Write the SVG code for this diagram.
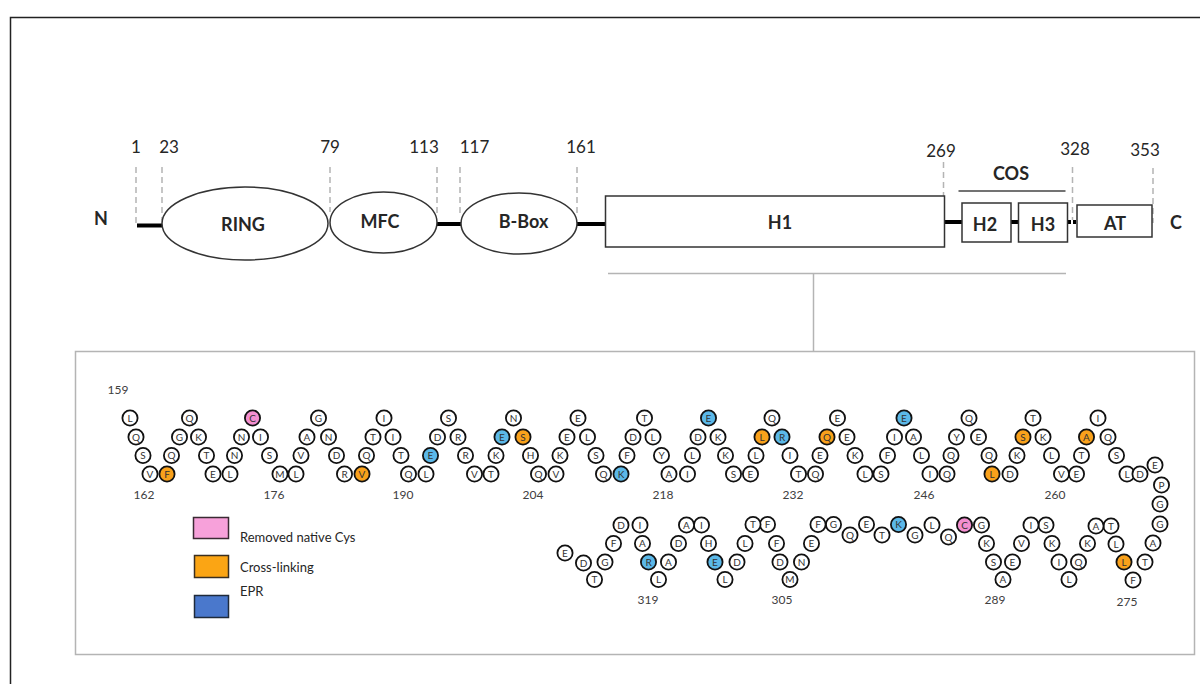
<svg xmlns="http://www.w3.org/2000/svg" width="1200" height="684" viewBox="0 0 1200 684">
<style>
text{font-family:"Lato","Liberation Sans",sans-serif;fill:#262626}
.num{font-size:17px;text-anchor:middle}
.dom{font-size:18px;font-weight:bold;text-anchor:middle}
.shape{fill:#fff;stroke:#333;stroke-width:1.5}
.res circle{fill:#fff;stroke:#111;stroke-width:1.8}
.res text{font-size:10px;text-anchor:middle;fill:#333}
.res.o circle{fill:#f9a11b}
.res.p circle{fill:#f48fd0}
.res.b circle{fill:#5bb8e8}
.pos{font-size:12px;text-anchor:middle;fill:#404040}
.leg{font-size:13px}
.dash{stroke:#b4b4b4;stroke-width:1.5;stroke-dasharray:6 4;fill:none}
.bb{stroke:#000;stroke-width:4;fill:none}
.gl{stroke:#b4b4b4;stroke-width:1.5;fill:none}
</style>
<rect x="0" y="0" width="1200" height="684" fill="#fff"/>
<rect x="10.5" y="17.5" width="1200" height="700" fill="none" stroke="#222" stroke-width="1.5"/>
<rect x="75.5" y="351.5" width="1119" height="303" fill="none" stroke="#b4b4b4" stroke-width="1.5"/>

<g id="connectors">
<line class="bb" x1="137" y1="225.5" x2="163" y2="225.5"/>
<line class="bb" x1="437" y1="224" x2="461" y2="224"/>
<line class="bb" x1="577" y1="224" x2="606" y2="224"/>
<line class="bb" x1="944" y1="222" x2="962" y2="222"/>
<line class="bb" x1="1011" y1="222" x2="1018" y2="222"/>
<line x1="1068" y1="222" x2="1077" y2="222" stroke="#000" stroke-width="4" stroke-dasharray="3 2"/>
<line class="dash" x1="136" y1="167" x2="136" y2="223"/>
<line class="dash" x1="162" y1="167" x2="162" y2="220"/>
<line class="dash" x1="330" y1="167" x2="330" y2="212"/>
<line class="dash" x1="437" y1="167" x2="437" y2="213"/>
<line class="dash" x1="460" y1="167" x2="460" y2="213"/>
<line class="dash" x1="577" y1="167" x2="577" y2="215"/>
<line class="dash" x1="943.5" y1="162" x2="943.5" y2="220"/>
<line class="dash" x1="1072.5" y1="167" x2="1072.5" y2="220"/>
<line class="dash" x1="1153" y1="168" x2="1153" y2="223"/>
<line x1="958.5" y1="191" x2="1065.5" y2="191" stroke="#444" stroke-width="1.5"/>
<line class="gl" x1="608" y1="273.5" x2="1066" y2="273.5"/>
<line class="gl" x1="813.5" y1="273.5" x2="813.5" y2="351.5"/>
</g>

<g id="labels-domain-positions">
<text class="num" x="136" y="153">1</text>
<text class="num" x="169" y="153">23</text>
<text class="num" x="330" y="153">79</text>
<text class="num" x="424" y="153">113</text>
<text class="num" x="474.5" y="153">117</text>
<text class="num" x="581" y="153">161</text>
<text class="num" x="941" y="157">269</text>
<text class="num" x="1075" y="155">328</text>
<text class="num" x="1145" y="156">353</text>
<text class="dom" x="101" y="224.5">N</text>
<text class="dom" x="1176" y="228.5">C</text>
<text class="dom" x="1011" y="179.5">COS</text>
</g>

<g id="RING"><ellipse class="shape" cx="245" cy="223.5" rx="83" ry="36.5"/><text class="dom" x="243" y="231">RING</text></g>
<g id="MFC"><ellipse class="shape" cx="383.5" cy="222.5" rx="53.5" ry="30.5"/><text class="dom" x="380" y="228">MFC</text></g>
<g id="BBox"><ellipse class="shape" cx="519" cy="223.5" rx="58" ry="30.5"/><text class="dom" x="523.5" y="228">B-Box</text></g>
<g id="H1"><rect class="shape" x="605.5" y="196" width="339" height="51"/><text class="dom" x="780" y="229">H1</text></g>
<g id="H2"><rect class="shape" x="962" y="203" width="49" height="39"/><text class="dom" x="985" y="230.5">H2</text></g>
<g id="H3"><rect class="shape" x="1018.5" y="203" width="49" height="39"/><text class="dom" x="1043" y="231">H3</text></g>
<g id="AT"><rect class="shape" x="1077" y="205" width="75" height="32"/><text class="dom" x="1115" y="229.5">AT</text></g>

<g id="residue-labels">
<text class="pos" x="118" y="394">159</text>
<text class="pos" x="144" y="499">162</text>
<text class="pos" x="274" y="499">176</text>
<text class="pos" x="403" y="499">190</text>
<text class="pos" x="533" y="499">204</text>
<text class="pos" x="663" y="499">218</text>
<text class="pos" x="793" y="499">232</text>
<text class="pos" x="924" y="499">246</text>
<text class="pos" x="1055" y="499">260</text>
<text class="pos" x="648" y="604">319</text>
<text class="pos" x="782" y="604">305</text>
<text class="pos" x="995" y="604">289</text>
<text class="pos" x="1127" y="606">275</text>
</g>

<g id="residues">
<g id="r159" class="res" transform="translate(130,418)"><circle r="7.6"/><text y="3.5">L</text></g>
<g id="r160" class="res" transform="translate(136,437)"><circle r="7.6"/><text y="3.5">Q</text></g>
<g id="r161" class="res" transform="translate(143,455.5)"><circle r="7.6"/><text y="3.5">S</text></g>
<g id="r162" class="res" transform="translate(150,474)"><circle r="7.6"/><text y="3.5">V</text></g>
<g id="r163" class="res o" transform="translate(167,474)"><circle r="7.6"/><text y="3.5">F</text></g>
<g id="r164" class="res" transform="translate(171.5,455.5)"><circle r="7.6"/><text y="3.5">Q</text></g>
<g id="r165" class="res" transform="translate(179.5,437)"><circle r="7.6"/><text y="3.5">G</text></g>
<g id="r166" class="res" transform="translate(189.5,418)"><circle r="7.6"/><text y="3.5">Q</text></g>
<g id="r167" class="res" transform="translate(198.5,437)"><circle r="7.6"/><text y="3.5">K</text></g>
<g id="r168" class="res" transform="translate(206.5,455.5)"><circle r="7.6"/><text y="3.5">T</text></g>
<g id="r169" class="res" transform="translate(213,474)"><circle r="7.6"/><text y="3.5">E</text></g>
<g id="r170" class="res" transform="translate(230,474)"><circle r="7.6"/><text y="3.5">L</text></g>
<g id="r171" class="res" transform="translate(234.5,455.5)"><circle r="7.6"/><text y="3.5">N</text></g>
<g id="r172" class="res" transform="translate(241.5,437)"><circle r="7.6"/><text y="3.5">N</text></g>
<g id="r173" class="res p" transform="translate(252.5,418)"><circle r="7.6"/><text y="3.5">C</text></g>
<g id="r174" class="res" transform="translate(260.5,437)"><circle r="7.6"/><text y="3.5">I</text></g>
<g id="r175" class="res" transform="translate(269.5,455.5)"><circle r="7.6"/><text y="3.5">S</text></g>
<g id="r176" class="res" transform="translate(280,474)"><circle r="7.6"/><text y="3.5">M</text></g>
<g id="r177" class="res" transform="translate(296,474)"><circle r="7.6"/><text y="3.5">L</text></g>
<g id="r178" class="res" transform="translate(301,455.5)"><circle r="7.6"/><text y="3.5">V</text></g>
<g id="r179" class="res" transform="translate(307,437)"><circle r="7.6"/><text y="3.5">A</text></g>
<g id="r180" class="res" transform="translate(318.5,418)"><circle r="7.6"/><text y="3.5">G</text></g>
<g id="r181" class="res" transform="translate(328.5,437)"><circle r="7.6"/><text y="3.5">N</text></g>
<g id="r182" class="res" transform="translate(336.5,455.5)"><circle r="7.6"/><text y="3.5">D</text></g>
<g id="r183" class="res" transform="translate(344.5,474)"><circle r="7.6"/><text y="3.5">R</text></g>
<g id="r184" class="res o" transform="translate(362,474)"><circle r="7.6"/><text y="3.5">V</text></g>
<g id="r185" class="res" transform="translate(366.5,455.5)"><circle r="7.6"/><text y="3.5">Q</text></g>
<g id="r186" class="res" transform="translate(373,437)"><circle r="7.6"/><text y="3.5">T</text></g>
<g id="r187" class="res" transform="translate(384,418)"><circle r="7.6"/><text y="3.5">I</text></g>
<g id="r188" class="res" transform="translate(393,437)"><circle r="7.6"/><text y="3.5">I</text></g>
<g id="r189" class="res" transform="translate(401,455.5)"><circle r="7.6"/><text y="3.5">T</text></g>
<g id="r190" class="res" transform="translate(408.5,474)"><circle r="7.6"/><text y="3.5">Q</text></g>
<g id="r191" class="res" transform="translate(426,474)"><circle r="7.6"/><text y="3.5">L</text></g>
<g id="r192" class="res b" transform="translate(430.5,455.5)"><circle r="7.6"/><text y="3.5">E</text></g>
<g id="r193" class="res" transform="translate(437.5,437)"><circle r="7.6"/><text y="3.5">D</text></g>
<g id="r194" class="res" transform="translate(448.5,418)"><circle r="7.6"/><text y="3.5">S</text></g>
<g id="r195" class="res" transform="translate(458,437)"><circle r="7.6"/><text y="3.5">R</text></g>
<g id="r196" class="res" transform="translate(465.5,455.5)"><circle r="7.6"/><text y="3.5">R</text></g>
<g id="r197" class="res" transform="translate(474.5,474)"><circle r="7.6"/><text y="3.5">V</text></g>
<g id="r198" class="res" transform="translate(491,474)"><circle r="7.6"/><text y="3.5">T</text></g>
<g id="r199" class="res" transform="translate(496,455.5)"><circle r="7.6"/><text y="3.5">K</text></g>
<g id="r200" class="res b" transform="translate(502,437)"><circle r="7.6"/><text y="3.5">E</text></g>
<g id="r201" class="res" transform="translate(513.5,418)"><circle r="7.6"/><text y="3.5">N</text></g>
<g id="r202" class="res o" transform="translate(523,437)"><circle r="7.6"/><text y="3.5">S</text></g>
<g id="r203" class="res" transform="translate(530.5,455.5)"><circle r="7.6"/><text y="3.5">H</text></g>
<g id="r204" class="res" transform="translate(538.5,474)"><circle r="7.6"/><text y="3.5">Q</text></g>
<g id="r205" class="res" transform="translate(556,474)"><circle r="7.6"/><text y="3.5">V</text></g>
<g id="r206" class="res" transform="translate(560,455.5)"><circle r="7.6"/><text y="3.5">K</text></g>
<g id="r207" class="res" transform="translate(567,437)"><circle r="7.6"/><text y="3.5">E</text></g>
<g id="r208" class="res" transform="translate(578,418)"><circle r="7.6"/><text y="3.5">E</text></g>
<g id="r209" class="res" transform="translate(587.5,437)"><circle r="7.6"/><text y="3.5">L</text></g>
<g id="r210" class="res" transform="translate(596,455.5)"><circle r="7.6"/><text y="3.5">S</text></g>
<g id="r211" class="res" transform="translate(603.5,474)"><circle r="7.6"/><text y="3.5">Q</text></g>
<g id="r212" class="res b" transform="translate(621,474)"><circle r="7.6"/><text y="3.5">K</text></g>
<g id="r213" class="res" transform="translate(627,455.5)"><circle r="7.6"/><text y="3.5">F</text></g>
<g id="r214" class="res" transform="translate(633,437)"><circle r="7.6"/><text y="3.5">D</text></g>
<g id="r215" class="res" transform="translate(644.5,418)"><circle r="7.6"/><text y="3.5">T</text></g>
<g id="r216" class="res" transform="translate(653,437)"><circle r="7.6"/><text y="3.5">L</text></g>
<g id="r217" class="res" transform="translate(661.5,455.5)"><circle r="7.6"/><text y="3.5">Y</text></g>
<g id="r218" class="res" transform="translate(669,474)"><circle r="7.6"/><text y="3.5">A</text></g>
<g id="r219" class="res" transform="translate(687.5,474)"><circle r="7.6"/><text y="3.5">I</text></g>
<g id="r220" class="res" transform="translate(692.5,455.5)"><circle r="7.6"/><text y="3.5">L</text></g>
<g id="r221" class="res" transform="translate(698,437)"><circle r="7.6"/><text y="3.5">D</text></g>
<g id="r222" class="res b" transform="translate(708.5,418)"><circle r="7.6"/><text y="3.5">E</text></g>
<g id="r223" class="res" transform="translate(718,437)"><circle r="7.6"/><text y="3.5">K</text></g>
<g id="r224" class="res" transform="translate(725.5,455.5)"><circle r="7.6"/><text y="3.5">K</text></g>
<g id="r225" class="res" transform="translate(733.5,474)"><circle r="7.6"/><text y="3.5">S</text></g>
<g id="r226" class="res" transform="translate(750.5,474)"><circle r="7.6"/><text y="3.5">E</text></g>
<g id="r227" class="res" transform="translate(756,455.5)"><circle r="7.6"/><text y="3.5">L</text></g>
<g id="r228" class="res o" transform="translate(762,437)"><circle r="7.6"/><text y="3.5">L</text></g>
<g id="r229" class="res" transform="translate(772,418)"><circle r="7.6"/><text y="3.5">Q</text></g>
<g id="r230" class="res b" transform="translate(782,437)"><circle r="7.6"/><text y="3.5">R</text></g>
<g id="r231" class="res" transform="translate(790,455.5)"><circle r="7.6"/><text y="3.5">I</text></g>
<g id="r232" class="res" transform="translate(798.5,474)"><circle r="7.6"/><text y="3.5">T</text></g>
<g id="r233" class="res" transform="translate(815.5,474)"><circle r="7.6"/><text y="3.5">Q</text></g>
<g id="r234" class="res" transform="translate(820,455.5)"><circle r="7.6"/><text y="3.5">E</text></g>
<g id="r235" class="res o" transform="translate(827,437)"><circle r="7.6"/><text y="3.5">Q</text></g>
<g id="r236" class="res" transform="translate(837.5,418)"><circle r="7.6"/><text y="3.5">E</text></g>
<g id="r237" class="res" transform="translate(847,437)"><circle r="7.6"/><text y="3.5">E</text></g>
<g id="r238" class="res" transform="translate(855,455.5)"><circle r="7.6"/><text y="3.5">K</text></g>
<g id="r239" class="res" transform="translate(865,474)"><circle r="7.6"/><text y="3.5">L</text></g>
<g id="r240" class="res" transform="translate(881,474)"><circle r="7.6"/><text y="3.5">S</text></g>
<g id="r241" class="res" transform="translate(887.5,455.5)"><circle r="7.6"/><text y="3.5">F</text></g>
<g id="r242" class="res" transform="translate(894.5,437)"><circle r="7.6"/><text y="3.5">I</text></g>
<g id="r243" class="res b" transform="translate(904,418)"><circle r="7.6"/><text y="3.5">E</text></g>
<g id="r244" class="res" transform="translate(913.5,437)"><circle r="7.6"/><text y="3.5">A</text></g>
<g id="r245" class="res" transform="translate(921.5,455.5)"><circle r="7.6"/><text y="3.5">L</text></g>
<g id="r246" class="res" transform="translate(930,474)"><circle r="7.6"/><text y="3.5">I</text></g>
<g id="r247" class="res" transform="translate(947,474)"><circle r="7.6"/><text y="3.5">Q</text></g>
<g id="r248" class="res" transform="translate(951,455.5)"><circle r="7.6"/><text y="3.5">Q</text></g>
<g id="r249" class="res" transform="translate(956.5,437)"><circle r="7.6"/><text y="3.5">Y</text></g>
<g id="r250" class="res" transform="translate(969,418)"><circle r="7.6"/><text y="3.5">Q</text></g>
<g id="r251" class="res" transform="translate(978.5,437)"><circle r="7.6"/><text y="3.5">E</text></g>
<g id="r252" class="res" transform="translate(989,455.5)"><circle r="7.6"/><text y="3.5">Q</text></g>
<g id="r253" class="res o" transform="translate(992,474)"><circle r="7.6"/><text y="3.5">L</text></g>
<g id="r254" class="res" transform="translate(1010,474)"><circle r="7.6"/><text y="3.5">D</text></g>
<g id="r255" class="res" transform="translate(1017,455.5)"><circle r="7.6"/><text y="3.5">K</text></g>
<g id="r256" class="res o" transform="translate(1023,437)"><circle r="7.6"/><text y="3.5">S</text></g>
<g id="r257" class="res" transform="translate(1033,418)"><circle r="7.6"/><text y="3.5">T</text></g>
<g id="r258" class="res" transform="translate(1043,437)"><circle r="7.6"/><text y="3.5">K</text></g>
<g id="r259" class="res" transform="translate(1051.5,455.5)"><circle r="7.6"/><text y="3.5">L</text></g>
<g id="r260" class="res" transform="translate(1061.5,474)"><circle r="7.6"/><text y="3.5">V</text></g>
<g id="r261" class="res" transform="translate(1076.5,474)"><circle r="7.6"/><text y="3.5">E</text></g>
<g id="r262" class="res" transform="translate(1081.5,455.5)"><circle r="7.6"/><text y="3.5">T</text></g>
<g id="r263" class="res o" transform="translate(1086.5,437)"><circle r="7.6"/><text y="3.5">A</text></g>
<g id="r264" class="res" transform="translate(1098,418)"><circle r="7.6"/><text y="3.5">I</text></g>
<g id="r265" class="res" transform="translate(1108,437)"><circle r="7.6"/><text y="3.5">Q</text></g>
<g id="r266" class="res" transform="translate(1116.5,455.5)"><circle r="7.6"/><text y="3.5">S</text></g>
<g id="r267" class="res" transform="translate(1127,474)"><circle r="7.6"/><text y="3.5">L</text></g>
<g id="r268" class="res" transform="translate(1140,474)"><circle r="7.6"/><text y="3.5">D</text></g>
<g id="r269" class="res" transform="translate(1155,465)"><circle r="7.6"/><text y="3.5">E</text></g>
<g id="r270" class="res" transform="translate(1161.5,485)"><circle r="7.6"/><text y="3.5">P</text></g>
<g id="r271" class="res" transform="translate(1160,504)"><circle r="7.6"/><text y="3.5">G</text></g>
<g id="r272" class="res" transform="translate(1160,524)"><circle r="7.6"/><text y="3.5">G</text></g>
<g id="r273" class="res" transform="translate(1153,543)"><circle r="7.6"/><text y="3.5">A</text></g>
<g id="r274" class="res" transform="translate(1145,562)"><circle r="7.6"/><text y="3.5">T</text></g>
<g id="r275" class="res" transform="translate(1133,580)"><circle r="7.6"/><text y="3.5">F</text></g>
<g id="r276" class="res o" transform="translate(1124,562)"><circle r="7.6"/><text y="3.5">L</text></g>
<g id="r277" class="res" transform="translate(1116,544)"><circle r="7.6"/><text y="3.5">L</text></g>
<g id="r278" class="res" transform="translate(1111,526)"><circle r="7.6"/><text y="3.5">T</text></g>
<g id="r279" class="res" transform="translate(1096,526)"><circle r="7.6"/><text y="3.5">A</text></g>
<g id="r280" class="res" transform="translate(1087.5,543.5)"><circle r="7.6"/><text y="3.5">K</text></g>
<g id="r281" class="res" transform="translate(1078.5,562)"><circle r="7.6"/><text y="3.5">Q</text></g>
<g id="r282" class="res" transform="translate(1069,579.5)"><circle r="7.6"/><text y="3.5">L</text></g>
<g id="r283" class="res" transform="translate(1059,562)"><circle r="7.6"/><text y="3.5">I</text></g>
<g id="r284" class="res" transform="translate(1052,543.5)"><circle r="7.6"/><text y="3.5">K</text></g>
<g id="r285" class="res" transform="translate(1046,525)"><circle r="7.6"/><text y="3.5">S</text></g>
<g id="r286" class="res" transform="translate(1031,525)"><circle r="7.6"/><text y="3.5">I</text></g>
<g id="r287" class="res" transform="translate(1021.5,543.5)"><circle r="7.6"/><text y="3.5">V</text></g>
<g id="r288" class="res" transform="translate(1012.5,562)"><circle r="7.6"/><text y="3.5">E</text></g>
<g id="r289" class="res" transform="translate(1003,579.5)"><circle r="7.6"/><text y="3.5">A</text></g>
<g id="r290" class="res" transform="translate(993.5,562)"><circle r="7.6"/><text y="3.5">S</text></g>
<g id="r291" class="res" transform="translate(986.5,543.5)"><circle r="7.6"/><text y="3.5">K</text></g>
<g id="r292" class="res" transform="translate(981.5,525)"><circle r="7.6"/><text y="3.5">G</text></g>
<g id="r293" class="res p" transform="translate(964.5,525)"><circle r="7.6"/><text y="3.5">C</text></g>
<g id="r294" class="res" transform="translate(948.5,537)"><circle r="7.6"/><text y="3.5">Q</text></g>
<g id="r295" class="res" transform="translate(932,525)"><circle r="7.6"/><text y="3.5">L</text></g>
<g id="r296" class="res" transform="translate(915,535)"><circle r="7.6"/><text y="3.5">G</text></g>
<g id="r297" class="res b" transform="translate(898.5,524.5)"><circle r="7.6"/><text y="3.5">K</text></g>
<g id="r298" class="res" transform="translate(882,535)"><circle r="7.6"/><text y="3.5">T</text></g>
<g id="r299" class="res" transform="translate(866.5,524.5)"><circle r="7.6"/><text y="3.5">E</text></g>
<g id="r300" class="res" transform="translate(850,535)"><circle r="7.6"/><text y="3.5">Q</text></g>
<g id="r301" class="res" transform="translate(833.5,524.5)"><circle r="7.6"/><text y="3.5">G</text></g>
<g id="r302" class="res" transform="translate(818,524.5)"><circle r="7.6"/><text y="3.5">F</text></g>
<g id="r303" class="res" transform="translate(811.5,543.5)"><circle r="7.6"/><text y="3.5">E</text></g>
<g id="r304" class="res" transform="translate(801.5,562)"><circle r="7.6"/><text y="3.5">N</text></g>
<g id="r305" class="res" transform="translate(790,579.5)"><circle r="7.6"/><text y="3.5">M</text></g>
<g id="r306" class="res" transform="translate(780,562)"><circle r="7.6"/><text y="3.5">D</text></g>
<g id="r307" class="res" transform="translate(776.5,543.5)"><circle r="7.6"/><text y="3.5">F</text></g>
<g id="r308" class="res" transform="translate(767.5,524.5)"><circle r="7.6"/><text y="3.5">F</text></g>
<g id="r309" class="res" transform="translate(753,524.5)"><circle r="7.6"/><text y="3.5">T</text></g>
<g id="r310" class="res" transform="translate(745,543.5)"><circle r="7.6"/><text y="3.5">L</text></g>
<g id="r311" class="res" transform="translate(737,562)"><circle r="7.6"/><text y="3.5">D</text></g>
<g id="r312" class="res" transform="translate(725,579.5)"><circle r="7.6"/><text y="3.5">L</text></g>
<g id="r313" class="res b" transform="translate(715,562)"><circle r="7.6"/><text y="3.5">E</text></g>
<g id="r314" class="res" transform="translate(708.5,543.5)"><circle r="7.6"/><text y="3.5">H</text></g>
<g id="r315" class="res" transform="translate(701.5,525)"><circle r="7.6"/><text y="3.5">I</text></g>
<g id="r316" class="res" transform="translate(686.5,525)"><circle r="7.6"/><text y="3.5">A</text></g>
<g id="r317" class="res" transform="translate(678.5,543.5)"><circle r="7.6"/><text y="3.5">D</text></g>
<g id="r318" class="res" transform="translate(668.5,562)"><circle r="7.6"/><text y="3.5">A</text></g>
<g id="r319" class="res" transform="translate(658.5,579.5)"><circle r="7.6"/><text y="3.5">L</text></g>
<g id="r320" class="res b" transform="translate(648.5,562)"><circle r="7.6"/><text y="3.5">R</text></g>
<g id="r321" class="res" transform="translate(642.5,543.5)"><circle r="7.6"/><text y="3.5">A</text></g>
<g id="r322" class="res" transform="translate(640,525)"><circle r="7.6"/><text y="3.5">I</text></g>
<g id="r323" class="res" transform="translate(621,525)"><circle r="7.6"/><text y="3.5">D</text></g>
<g id="r324" class="res" transform="translate(613.5,543.5)"><circle r="7.6"/><text y="3.5">F</text></g>
<g id="r325" class="res" transform="translate(605,562)"><circle r="7.6"/><text y="3.5">G</text></g>
<g id="r326" class="res" transform="translate(594.5,579.5)"><circle r="7.6"/><text y="3.5">T</text></g>
<g id="r327" class="res" transform="translate(583.5,563)"><circle r="7.6"/><text y="3.5">D</text></g>
<g id="r328" class="res" transform="translate(565,553)"><circle r="7.6"/><text y="3.5">E</text></g>
</g>

<g id="legend">
<g id="leg-removed"><rect x="193.5" y="517.5" width="35" height="21" fill="#f7a1da" stroke="#3a2a33" stroke-width="1.5"/><text class="leg" x="240" y="542">Removed native Cys</text></g>
<g id="leg-crosslink"><rect x="194.5" y="555.5" width="34" height="22" fill="#fba514" stroke="#3a2f20" stroke-width="1.5"/><text class="leg" x="240" y="572">Cross-linking</text></g>
<g id="leg-epr"><rect x="194.5" y="595.5" width="34" height="22" fill="#4a78cc" stroke="#1f2a3a" stroke-width="1.5"/><text class="leg" x="240" y="596">EPR</text></g>
</g>
</svg>
